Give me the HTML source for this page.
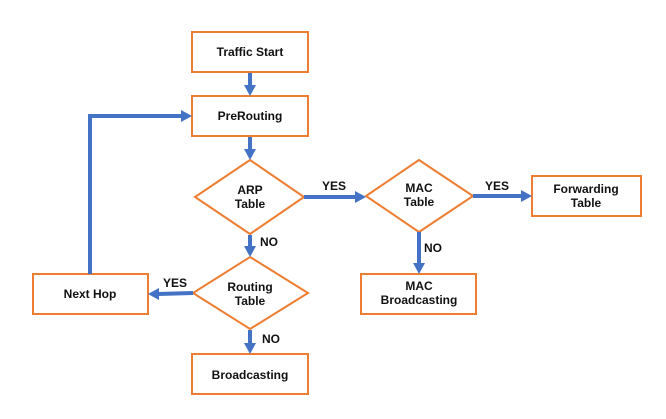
<!DOCTYPE html>
<html><head><style>body{margin:0;background:#fff}svg text{font-family:"Liberation Sans",sans-serif;font-size:12px;font-weight:bold;fill:#111;text-anchor:middle}</style></head>
<body>
<svg width="666" height="414" viewBox="0 0 666 414">
<g fill="#fff" stroke="#ED7D31" stroke-width="2">
<rect x="192" y="32" width="116" height="40"/>
<rect x="192" y="96" width="116" height="40"/>
<polygon points="250,160 304,197 250,234 195,197"/>
<polygon points="250,257 308,293 250,329 193,293"/>
<rect x="33" y="274" width="115" height="40"/>
<rect x="192" y="354" width="116" height="40"/>
<polygon points="419,160 473,196 419,232 366,196"/>
<rect x="532" y="176" width="109" height="40"/>
<rect x="361" y="274" width="115" height="40"/>
</g>
<g stroke="#4472C4" stroke-width="4" fill="none">
<line x1="250" y1="73" x2="250" y2="86"/>
<line x1="250" y1="137" x2="250" y2="150"/>
<line x1="250" y1="235" x2="250" y2="247"/>
<line x1="250" y1="330" x2="250" y2="344"/>
<line x1="193" y1="293" x2="158" y2="294"/>
<polyline points="90,274 90,116 182,116"/>
<line x1="304" y1="197" x2="356" y2="197"/>
<line x1="473" y1="196" x2="522" y2="196"/>
<line x1="419" y1="232" x2="419" y2="264"/>
</g>
<g fill="#4472C4">
<polygon points="244,85 256,85 250,96"/>
<polygon points="244,149 256,149 250,160"/>
<polygon points="244,246 256,246 250,257"/>
<polygon points="244,343 256,343 250,354"/>
<polygon points="159,288 159,300 148,294"/>
<polygon points="181,110 181,122 192,116"/>
<polygon points="355,191 355,203 366,197"/>
<polygon points="521,190 521,202 532,196"/>
<polygon points="413,263 425,263 419,274"/>
</g>
<text x="250" y="56">Traffic Start</text>
<text x="250" y="120">PreRouting</text>
<text x="250" y="194">ARP</text><text x="250" y="208">Table</text>
<text x="250" y="291">Routing</text><text x="250" y="305">Table</text>
<text x="90" y="298">Next Hop</text>
<text x="250" y="379">Broadcasting</text>
<text x="419" y="192">MAC</text><text x="419" y="206">Table</text>
<text x="586" y="193">Forwarding</text><text x="586" y="207">Table</text>
<text x="419" y="290">MAC</text><text x="419" y="304">Broadcasting</text>
<text x="334" y="190">YES</text>
<text x="497" y="190">YES</text>
<text x="175" y="287">YES</text>
<text x="269" y="246">NO</text>
<text x="271" y="343">NO</text>
<text x="433" y="252">NO</text>
</svg>
</body></html>
